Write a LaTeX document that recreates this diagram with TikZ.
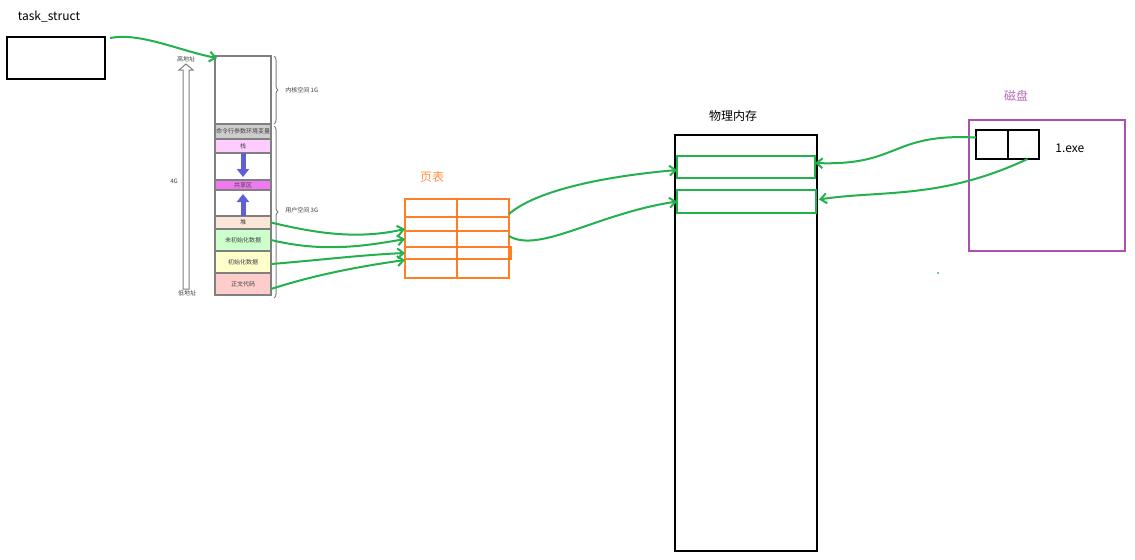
\documentclass[tikz,border=0pt]{standalone}
\usepackage{fontspec}
\setmainfont{Noto Sans CJK SC}
\usepackage{tikz}
\usetikzlibrary{arrows.meta,calc,positioning,decorations.pathreplacing}
\definecolor{lnk}{RGB}{34,177,76}
\definecolor{ptab}{RGB}{255,127,39}
\definecolor{dsk}{RGB}{170,80,175}
\definecolor{stk}{RGB}{255,204,255}
\definecolor{shr}{RGB}{240,120,240}
\definecolor{hp}{RGB}{251,229,214}
\definecolor{bss}{RGB}{204,255,204}
\definecolor{dat}{RGB}{255,255,204}
\definecolor{txt}{RGB}{255,204,204}
\definecolor{argc}{RGB}{205,205,205}
\definecolor{grow}{RGB}{95,95,215}
\newcommand{\tinyfnt}{\fontsize{3}{3.6}\selectfont}
\newcommand{\headfnt}{\fontsize{6}{7}\selectfont}

\begin{document}
\begin{tikzpicture}[x=0.5pt,y=-0.5pt,
  seg/.style={draw=gray,line width=0.8pt,fill=white,minimum width=28pt,inner sep=0pt,outer sep=0pt,font=\tinyfnt,text=black!75},
  ptrow/.style={draw=ptab,line width=1pt,minimum width=52pt,inner sep=0pt,outer sep=0pt},
  frame/.style={draw=lnk,line width=1pt,inner sep=0pt,outer sep=0pt,anchor=north west},
  link/.style={draw=lnk,line width=1pt,-{Straight Barb[length=3pt,width=5pt]}},
  brc/.style={draw=gray,line width=0.5pt,decorate,decoration={brace,amplitude=2pt}},
  growarr/.style={draw=grow,line width=2.5pt,-{Triangle[length=4pt,width=6pt]}},
  small/.style={font=\tinyfnt,text=black!75,inner sep=0pt},
  head/.style={font=\headfnt,inner sep=0pt}]
  \useasboundingbox (0,0) rectangle (1135,559);

  % task_struct
  \node[head] (tslbl) at (49,17) {task\_struct};
  \node[draw,line width=1.1pt,outer sep=0pt,anchor=north west,minimum width=49pt,minimum height=21pt] (task) at (7,37) {};

  % address arrow
  \draw[gray,line width=0.5pt,fill=white] (183,289)--(183,70)--(179,70)--(186,64)--(193,70)--(189,70)--(189,289)--cycle;
  \node[small] (hi) at (186,59) {高地址};
  \node[small] (lo) at (187,293) {低地址};
  \node[small] (sz) at (174,181) {4G};

  % process address space
  \node[seg,anchor=north west,minimum height=34pt] (kern) at (215,56) {};
  \node[seg,fill=argc,minimum height=7.5pt,below=0pt of kern] (args) {命令行参数环境变量};
  \node[seg,fill=stk,minimum height=7pt,below=0pt of args] (stack) {栈};
  \node[seg,minimum height=13.5pt,below=0pt of stack] (gap1) {};
  \node[seg,fill=shr,minimum height=5pt,below=0pt of gap1] (shared) {共享区};
  \node[seg,minimum height=13pt,below=0pt of shared] (gap2) {};
  \node[seg,fill=hp,minimum height=6.5pt,below=0pt of gap2] (heap) {堆};
  \node[seg,fill=bss,minimum height=11pt,below=0pt of heap] (bss) {未初始化数据};
  \node[seg,fill=dat,minimum height=11pt,below=0pt of bss] (data) {初始化数据};
  \node[seg,fill=txt,minimum height=11pt,below=0pt of data] (code) {正文代码};
  \draw[growarr] (stack.south) -- ([yshift=1.5pt]shared.north);
  \draw[growarr] (heap.north) -- ([yshift=-2pt]shared.south);

  \draw[brc] ([xshift=1.5pt]kern.north east) -- ([xshift=1.5pt]kern.south east);
  \draw[brc] ([xshift=1.5pt,yshift=-1pt]args.north east) -- ([xshift=1.5pt,yshift=-1.5pt]code.south east);
  \node[small,anchor=west] (klbl) at (285,90) {内核空间 1G};
  \node[small,anchor=west] (ulbl) at (285,210) {用户空间 3G};

  % page table
  \node[head,text=ptab!85] (ptlbl) at (432,177) {页表};
  \node[ptrow,anchor=north west,minimum height=9pt] (row1) at (405,199) {};
  \node[ptrow,minimum height=7pt,below=0pt of row1] (row2) {};
  \node[ptrow,minimum height=8pt,below=0pt of row2] (row3) {};
  \node[ptrow,minimum height=6pt,below=0pt of row3] (row4) {};
  \node[ptrow,minimum height=9.5pt,below=0pt of row4] (row5) {};
  \draw[ptab,line width=1pt] (row1.north) -- (row5.south);
  \draw[ptab,line width=1.3pt] (row4.north west) rectangle ([xshift=0.8pt]row4.south east);

  % physical memory
  \node[head] (physlbl) at (733,116) {物理内存};
  \node[draw,line width=1.2pt,outer sep=0pt,anchor=north west,minimum width=71pt,minimum height=208pt] (phys) at (675,135) {};
  \node[frame,minimum width=69pt,minimum height=11pt] (frm1) at (677,156) {};
  \node[frame,minimum width=69.5pt,minimum height=11.5pt] (frm2) at (677,190) {};

  % disk
  \node[head,text=dsk!85] (dsklbl) at (1016,96) {磁盘};
  \node[draw=dsk,line width=1.2pt,outer sep=0pt,anchor=north west,minimum width=78pt,minimum height=65.5pt] (disk) at (969,120) {};
  \node[draw,line width=1pt,outer sep=0pt,anchor=north west,minimum width=16pt,minimum height=14.5pt] (cell1) at (976,130) {};
  \node[draw,line width=1pt,outer sep=0pt,anchor=west,minimum width=15.5pt,minimum height=14.5pt] (cell2) at (cell1.east) {};
  \node[head,anchor=west] (exe) at (1055,148) {1.exe};

  % mappings
  \coordinate (tsout) at ([xshift=2.5pt,yshift=-0.5pt]task.north east);
  \draw[link] (tsout) .. controls ($(tsout)+(30,-6)$) and ($(kern.north west)+(-35,-5)$) .. ([xshift=1pt,yshift=-1pt]kern.north west);

  \draw[link] (heap.east) .. controls ($(heap.east)+(50,12)$) and ($(row2.south west)+(-45,8)$) .. ([yshift=1pt]row2.south west);
  \draw[link] (bss.east) .. controls ($(bss.east)+(50,12)$) and ($(row3.west)+(-45,8)$) .. (row3.west);
  \draw[link] ([yshift=-1pt]data.east) .. controls ($(data.east)+(50,-2)$) and ($(row4.west)+(-45,2)$) .. (row4.west);
  \draw[link] ([yshift=-2.5pt]code.east) .. controls ($(code.east)+(40,-8)$) and ($(row5.north west)+(-50,8)$) .. ([yshift=-0.5pt]row5.north west);

  \draw[link] ([yshift=1.5pt]row1.south east) .. controls ($(row1.south east)+(25,-25)$) and ($(frm1.west)+(-80,10)$) .. ([yshift=-1.5pt]frm1.west);
  \draw[link] ([yshift=1.5pt]row3.east) .. controls ($(row3.east)+(30,15)$) and ($(frm2.west)+(-80,12)$) .. (frm2.west);

  \coordinate (c1out) at ([yshift=3.5pt]cell1.west);
  \draw[link] (c1out) .. controls (890,133) and (900,166) .. ([yshift=2pt]frm1.east);
  \coordinate (c2out) at ([xshift=2pt]cell2.south);
  \draw[link] (c2out) .. controls (940,200) and (880,190) .. ([xshift=1.5pt,yshift=1pt]frm2.east);

  \fill[lnk] (938,273) circle (1);
\end{tikzpicture}
\end{document}
